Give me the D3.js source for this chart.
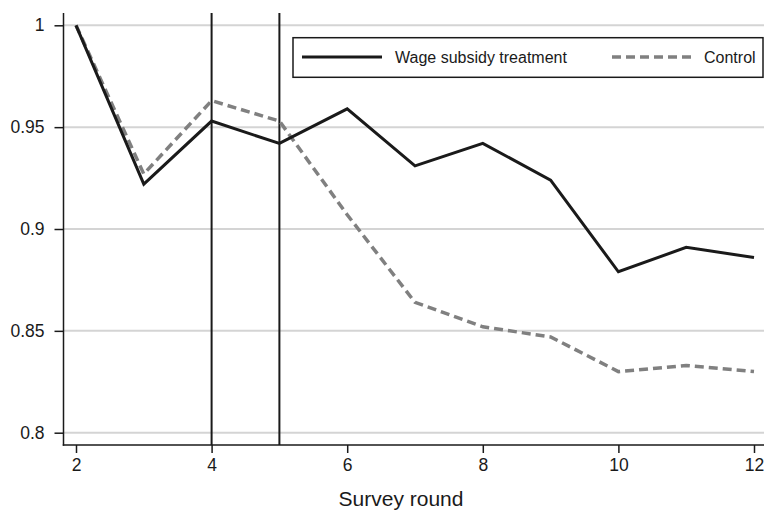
<!DOCTYPE html>
<html>
<head>
<meta charset="utf-8">
<script src="https://cdn.jsdelivr.net/npm/d3@7"></script>
<style>
  html, body { margin: 0; padding: 0; background: #fff; }
  svg text { font-family: "Liberation Sans", Arial, Helvetica, sans-serif; fill: #1a1a1a; }
</style>
</head>
<body>
<svg id="chart" width="764" height="510"></svg>
<script>
// Survey rounds and share of respondents for each group
const rounds = [2, 3, 4, 5, 6, 7, 8, 9, 10, 11, 12];
const treatment = [1.0, 0.922, 0.953, 0.942, 0.959, 0.931, 0.942, 0.924, 0.879, 0.891, 0.886];
const control = [1.0, 0.927, 0.963, 0.953, 0.907, 0.864, 0.852, 0.847, 0.830, 0.833, 0.830];
const yTicks = [0.8, 0.85, 0.9, 0.95, 1];
const xTicks = [2, 4, 6, 8, 10, 12];
const markerRounds = [4, 5];
const seriesNames = ["Wage subsidy treatment", "Control"];

const svg = d3.select("#chart");
const W = 764, H = 510;
const plotLeft = 63.5, plotTop = 13, plotBottom = 445;

const x = d3.scaleLinear().domain([2, 12]).range([76, 754]);
const y = d3.scaleLinear().domain([0.8, 1]).range([432.7, 25.3]);

// horizontal grid
svg.append("g").selectAll("line").data(yTicks).join("line")
  .attr("x1", plotLeft).attr("x2", W)
  .attr("y1", d => y(d)).attr("y2", d => y(d))
  .attr("stroke", "#d4d4d4").attr("stroke-width", 2);

// y axis
const yAxis = svg.append("g")
  .attr("transform", `translate(${plotLeft},0)`)
  .call(d3.axisLeft(y).tickValues(yTicks).tickSize(9).tickPadding(10)
    .tickFormat(d => String(+d.toFixed(2))));
yAxis.select(".domain").remove();
yAxis.selectAll(".tick line").attr("stroke", "#1a1a1a").attr("stroke-width", 1.5);
yAxis.selectAll(".tick text").attr("font-size", 17.5).attr("fill", "#1a1a1a")
  .style("font-family", "'Liberation Sans', Arial, sans-serif");
svg.append("line").attr("x1", plotLeft).attr("x2", plotLeft).attr("y1", plotTop).attr("y2", plotBottom + 0.75)
  .attr("stroke", "#1a1a1a").attr("stroke-width", 1.5);

// x axis
const xAxis = svg.append("g")
  .attr("transform", `translate(0,${plotBottom})`)
  .call(d3.axisBottom(x).tickValues(xTicks).tickSize(8).tickPadding(6));
xAxis.select(".domain").remove();
xAxis.selectAll(".tick line").attr("stroke", "#1a1a1a").attr("stroke-width", 1.5);
xAxis.selectAll(".tick text").attr("font-size", 17.5).attr("fill", "#1a1a1a")
  .style("font-family", "'Liberation Sans', Arial, sans-serif");
svg.append("line").attr("x1", plotLeft - 0.75).attr("x2", W).attr("y1", plotBottom).attr("y2", plotBottom)
  .attr("stroke", "#1a1a1a").attr("stroke-width", 1.5);

svg.append("text").attr("x", 401).attr("y", 506).attr("text-anchor", "middle")
  .attr("font-size", 21).text("Survey round");

// reference rounds
svg.append("g").selectAll("line").data(markerRounds).join("line")
  .attr("x1", d => x(d)).attr("x2", d => x(d))
  .attr("y1", plotTop).attr("y2", plotBottom)
  .attr("stroke", "#1a1a1a").attr("stroke-width", 2);

const line = d3.line().x((d, i) => x(rounds[i])).y(d => y(d));

svg.append("path").datum(control).attr("d", line)
  .attr("fill", "none").attr("stroke", "#808080").attr("stroke-width", 3.5)
  .attr("stroke-dasharray", "9,5");

svg.append("path").datum(treatment).attr("d", line)
  .attr("fill", "none").attr("stroke", "#1a1a1a").attr("stroke-width", 3);

// legend
const lg = svg.append("g");
lg.append("rect").attr("x", 293).attr("y", 37.7).attr("width", 470).attr("height", 39.6)
  .attr("fill", "#fff").attr("stroke", "#1a1a1a").attr("stroke-width", 1.5);
lg.append("line").attr("x1", 302).attr("x2", 382).attr("y1", 57).attr("y2", 57)
  .attr("stroke", "#1a1a1a").attr("stroke-width", 3);
lg.append("text").attr("x", 395).attr("y", 62.5).attr("font-size", 16).text(seriesNames[0]);
lg.append("line").attr("x1", 612).attr("x2", 692).attr("y1", 57).attr("y2", 57)
  .attr("stroke", "#808080").attr("stroke-width", 3.5).attr("stroke-dasharray", "9,5");
lg.append("text").attr("x", 704).attr("y", 62.5).attr("font-size", 16).text(seriesNames[1]);
</script>
</body>
</html>
